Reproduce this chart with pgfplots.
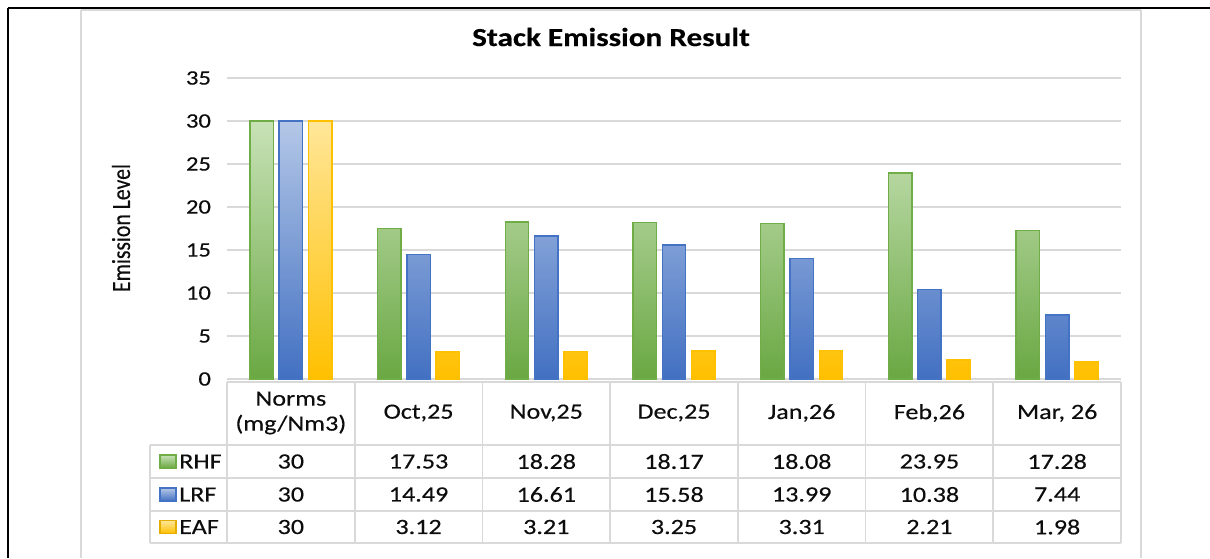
\documentclass[border=0pt]{standalone}
\usepackage{pgfplots}
\pgfplotsset{compat=1.18}
\usepackage{fontspec}
\setmainfont{Carlito}[FakeStretch=1.2, FakeBold=0.35]
\newfontfamily\plainfont{Carlito}[FakeBold=0.35]
\definecolor{gTop}{HTML}{C8E2B7}
\definecolor{gBot}{HTML}{6AA843}
\definecolor{gEdge}{HTML}{70AD47}
\definecolor{bTop}{HTML}{B4C7E7}
\definecolor{bBot}{HTML}{4270C2}
\definecolor{bEdge}{HTML}{4472C4}
\definecolor{yTop}{HTML}{FFE699}
\definecolor{yBot}{HTML}{FFC000}
\definecolor{yEdge}{HTML}{FFC000}
\definecolor{gridc}{HTML}{D9D9D9}
\definecolor{txt}{HTML}{0D0D0D}
\begin{document}
\begin{tikzpicture}
\begin{scope}[x=0.75pt,y=-0.75pt]
\path[use as bounding box] (0,0) rectangle (1210,558);
% frame
\draw[gridc, line width=1.2pt] (81,10) -- (81,558);
\draw[gridc, line width=1.2pt] (1141,10) -- (1141,558);
\draw[gridc, line width=1pt] (81,10) -- (1141,10);
\draw[black, line width=2pt] (8,8) -- (1210,8);
\draw[black, line width=2pt] (8,8) -- (8,558);
\end{scope}
\begin{axis}[
  at={(170.25pt,-284.25pt)}, anchor=south west,
  scale only axis, width=670.5pt, height=225.75pt,
  xmin=-0.5, xmax=6.5, ymin=0, ymax=35,
  ybar=4.35pt, bar width=17.6pt,
  axis line style={draw=none},
  major tick length=0pt,
  ymajorgrids, major grid style={draw=gridc, line width=1.2pt},
  ytick={0,5,...,35},
  /pgf/number format/assume math mode=true,
  yticklabel style={font=\fontsize{15.4}{18}\selectfont, text=txt, xshift=-8.5pt},
  xtick={0,...,6},
  xticklabels={{Norms\\(mg/Nm3)},{Oct,25},{Nov,25},{Dec,25},{Jan,26},{Feb,26},{Mar, 26}},
  xticklabel style={align=center, anchor=center, yshift=-25.5pt, text=txt,
    font=\fontsize{16.3}{18.75}\selectfont},
  clip=false,
]
\addplot[draw=gEdge, line width=1.1pt, top color=gTop, bottom color=gBot]
  coordinates {(0,30) (1,17.53) (2,18.28) (3,18.17) (4,18.08) (5,23.95) (6,17.28)};
\addplot[draw=bEdge, line width=1.1pt, top color=bTop, bottom color=bBot]
  coordinates {(0,30) (1,14.49) (2,16.61) (3,15.58) (4,13.99) (5,10.38) (6,7.44)};
\addplot[draw=yEdge, line width=1.1pt, top color=yTop, bottom color=yBot]
  coordinates {(0,30) (1,3.12) (2,3.21) (3,3.25) (4,3.31) (5,2.21) (6,1.98)};
\end{axis}
\begin{scope}[x=0.75pt,y=-0.75pt]
% title and y label
\node[font=\bfseries\fontsize{19.5}{23}\selectfont, text=black] at (611,37) {Stack Emission Result};
\node[font=\plainfont\fontsize{16.3}{19}\selectfont, text=txt, xscale=1.2, rotate=90] at (121,228) {Emission Level};
% data table grid
\begin{scope}[draw=gridc, line width=1.2pt]
\draw (227,382) -- (1121,382);
\foreach \yy in {445,478,511,543} \draw (150,\yy) -- (1121,\yy);
\foreach \k in {0,...,7} \draw ({227+127.714*\k},382) -- ({227+127.714*\k},543);
\draw (150,445) -- (150,543);
\end{scope}
% legend keys
\begin{scope}[line width=0.8pt]
\draw[gEdge, top color=gTop, bottom color=gBot] (160,455) rectangle (176,468);
\draw[bEdge, top color=bTop, bottom color=bBot] (160,488) rectangle (176,501);
\draw[yEdge!90!black, top color=yTop, bottom color=yBot] (160,520.5) rectangle (176,533.5);
\end{scope}
\begin{scope}[every node/.style={font=\fontsize{16.3}{18.75}\selectfont, text=txt}]
\node[anchor=west, inner sep=0pt] at (179,461.5) {RHF};
\node[anchor=west, inner sep=0pt] at (179,494.5) {LRF};
\node[anchor=west, inner sep=0pt] at (179,527) {EAF};
\foreach \v [count=\i from 0] in {30,17.53,18.28,18.17,18.08,23.95,17.28}
  \node at ({290.86+127.714*\i},461.5) {\v};
\foreach \v [count=\i from 0] in {30,14.49,16.61,15.58,13.99,10.38,7.44}
  \node at ({290.86+127.714*\i},494.5) {\v};
\foreach \v [count=\i from 0] in {30,3.12,3.21,3.25,3.31,2.21,1.98}
  \node at ({290.86+127.714*\i},527) {\v};
\end{scope}
\end{scope}
\end{tikzpicture}
\end{document}
